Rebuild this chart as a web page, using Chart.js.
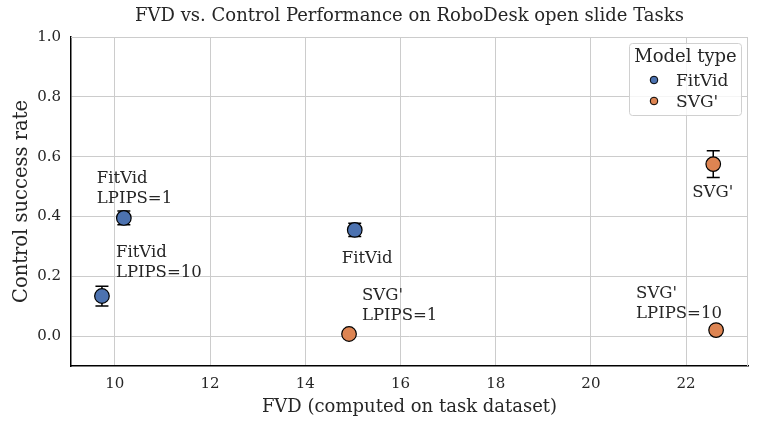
<!DOCTYPE html>
<html>
<head>
<meta charset="utf-8">
<script src="https://cdn.jsdelivr.net/npm/chart.js@4.4.0/dist/chart.umd.min.js"></script>
<style>
  body { margin: 0; background: #fff; }
  #wrap { width: 762px; height: 433px; }
</style>
</head>
<body>
<div id="wrap"><canvas id="myChart" width="762" height="433"></canvas></div>
<script>
// values
const models = ['FitVid', 'FitVid', 'FitVid', "SVG'", "SVG'", "SVG'"];
const pointLabels = ['FitVid\nLPIPS=1', 'FitVid\nLPIPS=10', 'FitVid', "SVG'\nLPIPS=1", "SVG'", "SVG'\nLPIPS=10"];
const fvd = [10.19, 9.73, 15.04, 14.92, 22.57, 22.63];
const success = [0.395, 0.134, 0.355, 0.007, 0.575, 0.02];
const errs = [0.023, 0.033, 0.022, 0.0, 0.045, 0.0];
const xTicks = [10, 12, 14, 16, 18, 20, 22];
const yTicks = [0.0, 0.2, 0.4, 0.6, 0.8, 1.0];
const modelTypes = ['FitVid', "SVG'"];
const colors = { 'FitVid': '#4C72B0', "SVG'": '#DD8452' };

// label offsets (px) relative to the point: left edge of text / first baseline
const labelOffsets = [[-27, -35], [14, -39], [-13, 33], [13, -34], [-21, 33], [-80, -32]];

const FONT = 'DejaVu Serif';
const TEXT = '#262626';

function byModel(m) {
  const pts = [];
  models.forEach((mm, i) => {
    if (mm === m) pts.push({ x: fvd[i], y: success[i] });
  });
  return pts;
}

const extras = {
  id: 'extras',
  beforeDatasetsDraw(chart) {
    const { ctx, chartArea: a, scales: { x, y } } = chart;
    ctx.save();
    // gray frame top / right
    ctx.strokeStyle = '#cccccc';
    ctx.lineWidth = 1;
    ctx.beginPath();
    ctx.moveTo(a.left, a.top + 0.5);
    ctx.lineTo(a.right - 0.5, a.top + 0.5);
    ctx.lineTo(a.right - 0.5, a.bottom);
    ctx.stroke();
    // error bars
    ctx.strokeStyle = '#000';
    ctx.lineWidth = 1.5;
    fvd.forEach((v, i) => {
      if (!errs[i]) return;
      const px = x.getPixelForValue(v);
      const y0 = y.getPixelForValue(success[i] - errs[i]);
      const y1 = y.getPixelForValue(success[i] + errs[i]);
      ctx.beginPath();
      ctx.moveTo(px, y0); ctx.lineTo(px, y1);
      ctx.moveTo(px - 6.5, y0); ctx.lineTo(px + 6.5, y0);
      ctx.moveTo(px - 6.5, y1); ctx.lineTo(px + 6.5, y1);
      ctx.stroke();
    });
    ctx.restore();
  },
  afterDatasetsDraw(chart) {
    const { ctx, chartArea: a, scales: { x, y } } = chart;
    ctx.save();
    // point annotations
    ctx.font = '16.5px "' + FONT + '"';
    ctx.fillStyle = TEXT;
    ctx.textBaseline = 'alphabetic';
    pointLabels.forEach((lab, i) => {
      const px = x.getPixelForValue(fvd[i]) + labelOffsets[i][0];
      const py = y.getPixelForValue(success[i]) + labelOffsets[i][1];
      lab.split('\n').forEach((line, k) => ctx.fillText(line, px, py + k * 20));
    });
    // legend
    const lx = 629, ly = a.top + 6, lw = 112, lh = 72;
    ctx.fillStyle = 'rgba(255,255,255,0.8)';
    ctx.strokeStyle = '#d0d0d0';
    ctx.lineWidth = 1;
    ctx.beginPath();
    ctx.roundRect(lx + 0.5, ly + 0.5, lw, lh, 3);
    ctx.fill();
    ctx.stroke();
    ctx.fillStyle = TEXT;
    ctx.textAlign = 'center';
    ctx.font = '18px "' + FONT + '"';
    ctx.fillText('Model type', lx + lw / 2 + 0.5, ly + 19);
    ctx.textAlign = 'left';
    ctx.font = '17px "' + FONT + '"';
    modelTypes.forEach((m, k) => {
      const cy = ly + 37 + k * 21;
      ctx.beginPath();
      ctx.arc(lx + 25, cy, 3.8, 0, Math.PI * 2);
      ctx.fillStyle = colors[m];
      ctx.fill();
      ctx.strokeStyle = '#000';
      ctx.lineWidth = 1;
      ctx.stroke();
      ctx.fillStyle = TEXT;
      ctx.fillText(m, lx + 47, cy + 6);
    });
    ctx.restore();
  }
};

new Chart(document.getElementById('myChart'), {
  type: 'scatter',
  data: {
    datasets: modelTypes.map(m => ({
      label: m,
      data: byModel(m),
      backgroundColor: colors[m],
      borderColor: '#000',
      borderWidth: 1.2,
      pointRadius: 7.3,
      pointHoverRadius: 7.3,
    })),
  },
  options: {
    responsive: false,
    animation: false,
    layout: { padding: { left: 0, right: 14, top: 0, bottom: 0 } },
    plugins: {
      legend: { display: false },
      tooltip: { enabled: false },
      title: {
        display: true,
        fullSize: false,
        text: 'FVD vs. Control Performance on RoboDesk open slide Tasks',
        color: TEXT,
        font: { family: FONT, size: 18, weight: 'normal' },
        padding: { top: 6, bottom: 9.4 },
      },
    },
    scales: {
      x: {
        type: 'linear',
        min: 9.08,
        max: 23.3,
        afterBuildTicks: s => { s.ticks = xTicks.map(v => ({ value: v })); },
        afterFit: s => { s.height = 67; },
        ticks: { color: TEXT, font: { family: FONT, size: 15 }, padding: 9,
                 callback: v => String(v) },
        grid: { color: '#cccccc', lineWidth: 1, drawTicks: false },
        border: { color: '#000', width: 1.5 },
        title: { display: true, text: 'FVD (computed on task dataset)', color: TEXT,
                 font: { family: FONT, size: 18 }, padding: { top: 2, bottom: 15 } },
      },
      y: {
        min: -0.1,
        max: 1.0,
        afterBuildTicks: s => { s.ticks = yTicks.map(v => ({ value: v })); },
        afterFit: s => { s.width = 71; },
        ticks: { color: TEXT, font: { family: FONT, size: 15 }, padding: 10,
                 callback: v => v.toFixed(1) },
        grid: { color: '#cccccc', lineWidth: 1, drawTicks: false },
        border: { color: '#000', width: 1.5 },
        title: { display: true, text: 'Control success rate', color: TEXT,
                 font: { family: FONT, size: 19.5 }, padding: { top: 10, bottom: 4 } },
      },
    },
  },
  plugins: [extras],
});
</script>
</body>
</html>
